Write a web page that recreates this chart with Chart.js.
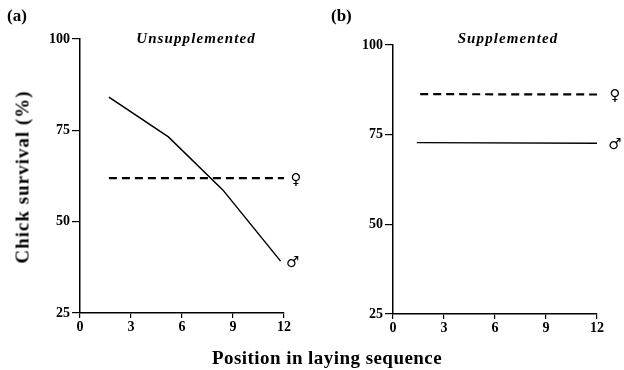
<!DOCTYPE html>
<html>
<head>
<meta charset="utf-8">
<script src="https://cdn.jsdelivr.net/npm/chart.js@4/dist/chart.umd.min.js"></script>
<style>
  html, body { margin: 0; padding: 0; background: #fff; }
  #wrap { position: relative; width: 624px; height: 370px; overflow: hidden; background: #fff; }
  canvas { position: absolute; top: 0; }
  .t { position: absolute; font-family: "Liberation Serif", "Times New Roman", serif; font-weight: bold; color: #000; white-space: nowrap; line-height: 1; }
</style>
</head>
<body>
<div id="wrap">
  <canvas id="ca" width="320" height="370" style="left:0;width:320px;height:370px"></canvas>
  <canvas id="cb" width="312" height="370" style="left:312px;width:312px;height:370px"></canvas>
  <div class="t" style="left:7px;top:7px;font-size:17px">(a)</div>
  <div class="t" style="left:331px;top:7px;font-size:17px">(b)</div>
  <div class="t" style="left:196px;top:38px;font-size:15px;font-style:italic;letter-spacing:1.1px;transform:translate(-50%,-50%)">Unsupplemented</div>
  <div class="t" style="left:508px;top:38px;font-size:15px;font-style:italic;letter-spacing:1.1px;transform:translate(-50%,-50%)">Supplemented</div>
  <div class="t" style="left:22px;top:177px;font-size:19px;letter-spacing:1px;transform:translate(-50%,-50%) rotate(-90deg)">Chick survival (%)</div>
  <div class="t" style="left:327px;top:357px;font-size:19px;letter-spacing:0.45px;transform:translate(-50%,-50%)">Position in laying sequence</div>
</div>
<script>
// Panel (a) Unsupplemented
const unsupMaleX = [1.7, 5.2, 8.4, 11.8];
const unsupMaleY = [84.1, 73.2, 58.7, 39.2];
const unsupFemaleX = [1.7, 12];
const unsupFemaleY = [61.9, 61.9];
// Panel (b) Supplemented
const supMaleX = [1.4, 12];
const supMaleY = [72.8, 72.6];
const supFemaleX = [1.6, 12];
const supFemaleY = [86.3, 86.2];
const xTicks = [0, 3, 6, 9, 12];
const yTicks = [25, 50, 75, 100];
const femaleSymbol = '\u2640';
const maleSymbol = '\u2642';

function pts(xs, ys) { return xs.map((x, i) => ({ x: x, y: ys[i] })); }

const endLabelPlugin = {
  id: 'endLabel',
  afterDatasetsDraw(chart) {
    const ctx = chart.ctx;
    const off = chart.options.plugins.endLabel.offset;
    chart.data.datasets.forEach((ds, i) => {
      const meta = chart.getDatasetMeta(i);
      const last = meta.data[meta.data.length - 1];
      ctx.save();
      ctx.fillStyle = '#000';
      ctx.font = '15px "DejaVu Sans"';
      ctx.textAlign = 'center';
      ctx.textBaseline = 'middle';
      ctx.fillText(ds.symbol, last.x + off, last.y + 2);
      ctx.restore();
    });
  }
};

function makeChart(id, datasets, area, canvasW, offset) {
  const tickFont = { family: '"Liberation Serif", serif', weight: 'bold', size: 14 };
  return new Chart(document.getElementById(id), {
    type: 'line',
    data: { datasets: datasets },
    options: {
      responsive: false,
      animation: false,
      events: [],
      layout: { padding: { left: 0, right: canvasW - area.right, top: area.top, bottom: 370 - area.bottom - 22 } },
      plugins: { legend: { display: false }, tooltip: { enabled: false }, endLabel: { offset: offset } },
      elements: { point: { radius: 0 } },
      scales: {
        x: {
          type: 'linear', min: 0, max: 12,
          afterBuildTicks: s => { s.ticks = xTicks.map(v => ({ value: v })); },
          afterFit: s => { s.height = 22; },
          ticks: { font: tickFont, color: '#000', padding: 1 },
          grid: { drawOnChartArea: false, drawTicks: true, tickLength: 5, color: '#000', lineWidth: 1.2 },
          border: { display: true, color: '#000', width: 1.5 }
        },
        y: {
          type: 'linear', min: 25, max: 100,
          afterBuildTicks: s => { s.ticks = yTicks.map(v => ({ value: v })); },
          afterFit: s => { s.width = area.left; },
          ticks: { font: tickFont, color: '#000', padding: 2 },
          grid: { drawOnChartArea: false, drawTicks: true, tickLength: 8, color: '#000', lineWidth: 1.2 },
          border: { display: true, color: '#000', width: 1.5 }
        }
      }
    },
    plugins: [endLabelPlugin]
  });
}

makeChart('ca', [
  { data: pts(unsupMaleX, unsupMaleY), borderColor: '#000', borderWidth: 1.5, tension: 0, symbol: maleSymbol },
  { data: pts(unsupFemaleX, unsupFemaleY), borderColor: '#000', borderWidth: 2.2, borderDash: [8, 5], tension: 0, symbol: femaleSymbol }
], { left: 80, right: 284, top: 39, bottom: 313 }, 320, 12);

makeChart('cb', [
  { data: pts(supMaleX, supMaleY), borderColor: '#000', borderWidth: 1.3, tension: 0, symbol: maleSymbol },
  { data: pts(supFemaleX, supFemaleY), borderColor: '#000', borderWidth: 2.2, borderDash: [8, 5], tension: 0, symbol: femaleSymbol }
], { left: 81, right: 285, top: 45, bottom: 314 }, 312, 18);
</script>
</body>
</html>
